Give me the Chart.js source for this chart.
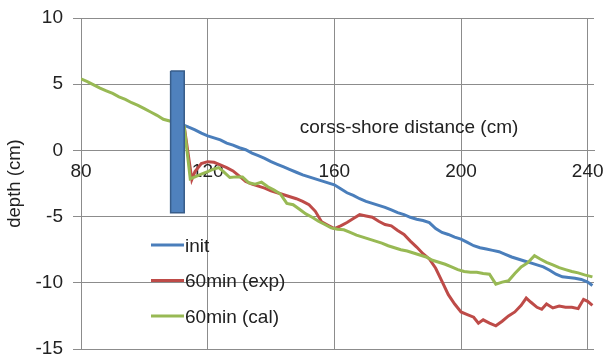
<!DOCTYPE html>
<html>
<head>
<meta charset="utf-8">
<script src="https://cdn.jsdelivr.net/npm/chart.js@4"></script>
<style>
  html, body { margin: 0; padding: 0; background: #fff; }
</style>
</head>
<body>
<canvas id="chart" width="610" height="356"></canvas>
<script>
// Данные профиля (cross-shore distance, cm / depth, cm)
const seriesNames = ['init', '60min (exp)', '60min (cal)'];
const seriesColors = ['#4A7EBB', '#BE4B48', '#98B954'];

const initX = [112.6, 114, 116, 118, 120, 122, 124, 126, 128, 130, 132, 134, 136, 138, 140, 142, 144, 146, 148, 150,
  152, 154, 156, 158, 160, 162, 164, 166, 168, 170, 172, 174, 176, 178, 180, 182, 184, 186, 188, 190,
  192, 194, 196, 198, 200, 202, 204, 206, 208, 210, 212, 214, 216, 218, 220, 222, 224, 226, 228, 230,
  232, 234, 236, 238, 240, 241.5];
const initY = [1.9, 1.75, 1.55, 1.3, 1.1, 0.95, 0.8, 0.55, 0.4, 0.2, 0.05, -0.2, -0.4, -0.6, -0.85, -1.05, -1.25, -1.45, -1.65, -1.85,
  -2.0, -2.15, -2.3, -2.45, -2.6, -2.9, -3.2, -3.4, -3.65, -3.85, -4.0, -4.15, -4.3, -4.5, -4.7, -4.85, -5.05, -5.2, -5.3, -5.45,
  -5.9, -6.2, -6.35, -6.55, -6.7, -6.95, -7.2, -7.35, -7.45, -7.55, -7.65, -7.85, -8.05, -8.2, -8.35, -8.5, -8.65, -8.8, -9.05, -9.35,
  -9.55, -9.6, -9.65, -9.75, -9.95, -10.2];

const expX = [112.6, 115, 116, 118, 120, 122, 124, 126, 128, 130, 132, 134, 136, 138, 140, 142, 144, 146, 148, 150,
  152, 154, 156, 158, 160, 162, 164, 166, 168, 170, 172, 174, 176, 178, 180, 182, 184, 186, 188, 190,
  192, 194, 196, 198, 200, 202, 204, 205.5, 207, 209, 211, 213, 215, 217, 219, 220.6, 222, 224, 225.5, 227,
  229, 231, 233, 235, 237, 238.7, 240, 241.5];
const expY = [1.8, -2.2, -1.6, -1.0, -0.85, -0.9, -1.1, -1.3, -1.55, -1.95, -2.35, -2.55, -2.7, -2.85, -3.05, -3.2, -3.35, -3.5, -3.65, -3.85,
  -4.1, -4.6, -5.4, -5.65, -5.9, -5.7, -5.45, -5.15, -4.85, -4.95, -5.05, -5.35, -5.6, -5.7, -6.05, -6.35, -6.85, -7.3, -7.8, -8.2,
  -8.9, -9.9, -10.9, -11.6, -12.2, -12.4, -12.6, -13.05, -12.8, -13.05, -13.25, -12.9, -12.5, -12.2, -11.7, -11.15, -11.45, -11.85, -12.0, -11.6,
  -11.9, -11.75, -11.85, -11.85, -11.95, -11.25, -11.4, -11.7];

const calX = [80, 82, 84, 86, 88, 90, 92, 94, 96, 98, 100, 102, 104, 106, 108.3,
  112.6, 114.5, 116, 118, 120, 122, 123.5, 125,
  127, 129, 131, 133, 135, 137, 139, 141, 143, 145, 147, 149, 151, 153, 155, 157, 159, 161, 163, 165,
  167, 169, 171, 173, 175, 177, 179, 181, 183, 185, 187, 189, 191, 193, 195, 197, 199, 201, 203, 205,
  207, 209, 211, 213, 215, 217, 219, 221,
  223.2, 225, 227, 229, 231, 233, 235, 237, 239, 241.5];
const calY = [5.4, 5.2, 4.95, 4.7, 4.5, 4.3, 4.05, 3.85, 3.6, 3.4, 3.15, 2.9, 2.65, 2.35, 2.2,
  1.8, -2.15, -2.0, -1.8, -1.6, -1.4, -1.3, -1.6,
  -2.05, -2.0, -2.0, -2.45, -2.55, -2.4, -2.75, -3.0, -3.3, -4.0, -4.1, -4.45, -4.8, -5.05, -5.35, -5.6, -5.85, -5.95, -6.0, -6.2,
  -6.4, -6.55, -6.7, -6.85, -7.0, -7.2, -7.35, -7.5, -7.6, -7.75, -7.9, -8.05, -8.3, -8.45, -8.6, -8.8, -9.0, -9.15, -9.2, -9.2,
  -9.3, -9.35, -10.1, -9.95, -9.85, -9.3, -8.8, -8.5,
  -7.95, -8.2, -8.45, -8.65, -8.85, -9.0, -9.15, -9.25, -9.4, -9.55];

// Волнолом (прямоугольник)
const wallX = [108.3, 112.6, 112.6, 108.3, 108.3];
const wallY = [6, 6, -4.7, -4.7, 6];

const xTicks = [80, 120, 160, 200, 240];
const xTitle = 'corss-shore distance (cm)';
const xTitleAt = [183.6, 1.7];
const yTitle = 'depth (cm)';

const FONT = '"Liberation Sans", Arial, sans-serif';
const TEXT = '#222222';
const GRID = '#8C8C8C';

function points(xs, ys) {
    return xs.map((x, i) => ({ x: x, y: ys[i] }));
}

function lineSet(label, xs, ys, color, order) {
    return {
        label: label,
        data: points(xs, ys),
        showLine: true,
        borderColor: color,
        backgroundColor: color,
        borderWidth: 3,
        pointRadius: 0,
        tension: 0,
        order: order
    };
}

// Легенда и подпись оси X внутри области графика
const overlay = {
    id: 'overlay',
    afterDraw(chart) {
        const ctx = chart.ctx;
        const xs = chart.scales.x;
        const ys = chart.scales.y;
        ctx.save();
        ctx.font = '19px ' + FONT;
        ctx.fillStyle = TEXT;
        ctx.textAlign = 'center';
        ctx.textBaseline = 'middle';
        ctx.fillText(xTitle, xs.getPixelForValue(xTitleAt[0]), ys.getPixelForValue(xTitleAt[1]));

        ctx.textAlign = 'left';
        seriesNames.forEach((name, i) => {
            const y = 245 + i * 35.5;
            ctx.strokeStyle = seriesColors[i];
            ctx.lineWidth = 3;
            ctx.beginPath();
            ctx.moveTo(151, y);
            ctx.lineTo(184, y);
            ctx.stroke();
            ctx.fillText(name, 185, y + 1.5);
        });
        ctx.restore();
    }
};

const ctx = document.getElementById('chart').getContext('2d');
new Chart(ctx, {
    type: 'scatter',
    data: {
        datasets: [
            {
                label: 'wall',
                data: points(wallX, wallY),
                showLine: true,
                borderColor: '#385D8A',
                backgroundColor: '#4F81BD',
                borderWidth: 1.5,
                pointRadius: 0,
                fill: 'shape',
                order: 0
            },
            lineSet(seriesNames[0], initX, initY, seriesColors[0], 3),
            lineSet(seriesNames[1], expX, expY, seriesColors[1], 2),
            lineSet(seriesNames[2], calX, calY, seriesColors[2], 1)
        ]
    },
    options: {
        responsive: false,
        animation: false,
        layout: {
            padding: { top: 18, right: 16, bottom: 7, left: 0 }
        },
        plugins: {
            legend: { display: false },
            tooltip: { enabled: false }
        },
        scales: {
            x: {
                type: 'linear',
                position: { y: 0 },
                min: 80,
                max: 242,
                afterBuildTicks: (axis) => {
                    axis.ticks = xTicks.map(v => ({ value: v }));
                },
                grid: { color: GRID, lineWidth: 1, tickLength: 8 },
                border: { color: GRID, width: 1 },
                ticks: {
                    color: TEXT,
                    padding: 2,
                    maxRotation: 0,
                    font: { family: FONT, size: 19 }
                }
            },
            y: {
                type: 'linear',
                min: -15,
                max: 10,
                afterFit: (axis) => {
                    axis.width = 81;
                    axis.paddingTop = 0;
                    axis.paddingBottom = 0;
                },
                grid: { color: GRID, lineWidth: 1, tickLength: 8 },
                border: { color: GRID, width: 1 },
                ticks: {
                    stepSize: 5,
                    color: TEXT,
                    padding: 10,
                    font: { family: FONT, size: 19 }
                },
                title: {
                    display: true,
                    text: yTitle,
                    color: TEXT,
                    padding: { top: 4, bottom: 2 },
                    font: { family: FONT, size: 18.5 }
                }
            }
        }
    },
    plugins: [overlay]
});
</script>
</body>
</html>
